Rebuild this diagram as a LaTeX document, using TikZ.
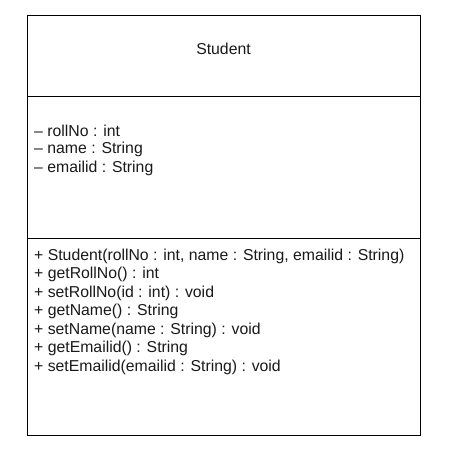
\documentclass[tikz,border=0pt]{standalone}
\usepackage{fontspec}
\setmainfont{Liberation Sans}
\begin{document}
\begin{tikzpicture}[x=1pt,y=1pt,
  umlline/.style={draw=black,line width=1pt},
  txt/.style={anchor=west,inner sep=0pt,font=\fontsize{15.8}{18}\selectfont,text=black!90}]
\useasboundingbox (0,0) rectangle (451,453);
\coordinate (tl) at (27,437.5);
\coordinate (br) at (420,17);
\coordinate (d1l) at (27,356);
\coordinate (d1r) at (420,356);
\coordinate (d2l) at (27,214.5);
\coordinate (d2r) at (420,214.5);
\draw[umlline] (tl) rectangle (br);
\draw[umlline] (d1l) -- (d1r);
\draw[umlline] (d2l) -- (d2r);
\node[txt,anchor=center] (title) at (223.5,404) {Student};
\node[txt] (a1) at (34,322.5) {– rollNo : int};
\node[txt] (a2) at (34,303.5) {– name : String};
\node[txt] (a3) at (34,284.5) {– emailid : String};
\node[txt] (m1) at (34,196.5) {+ Student(rollNo : int, name : String, emailid : String)};
\node[txt] (m2) at (34,178.5) {+ getRollNo() : int};
\node[txt] (m3) at (34,160) {+ setRollNo(id : int) : void};
\node[txt] (m4) at (34,141.5) {+ getName() : String};
\node[txt] (m5) at (34,123) {+ setName(name : String) : void};
\node[txt] (m6) at (34,104.5) {+ getEmailid() : String};
\node[txt] (m7) at (34,86) {+ setEmailid(emailid : String) : void};
\end{tikzpicture}
\end{document}
